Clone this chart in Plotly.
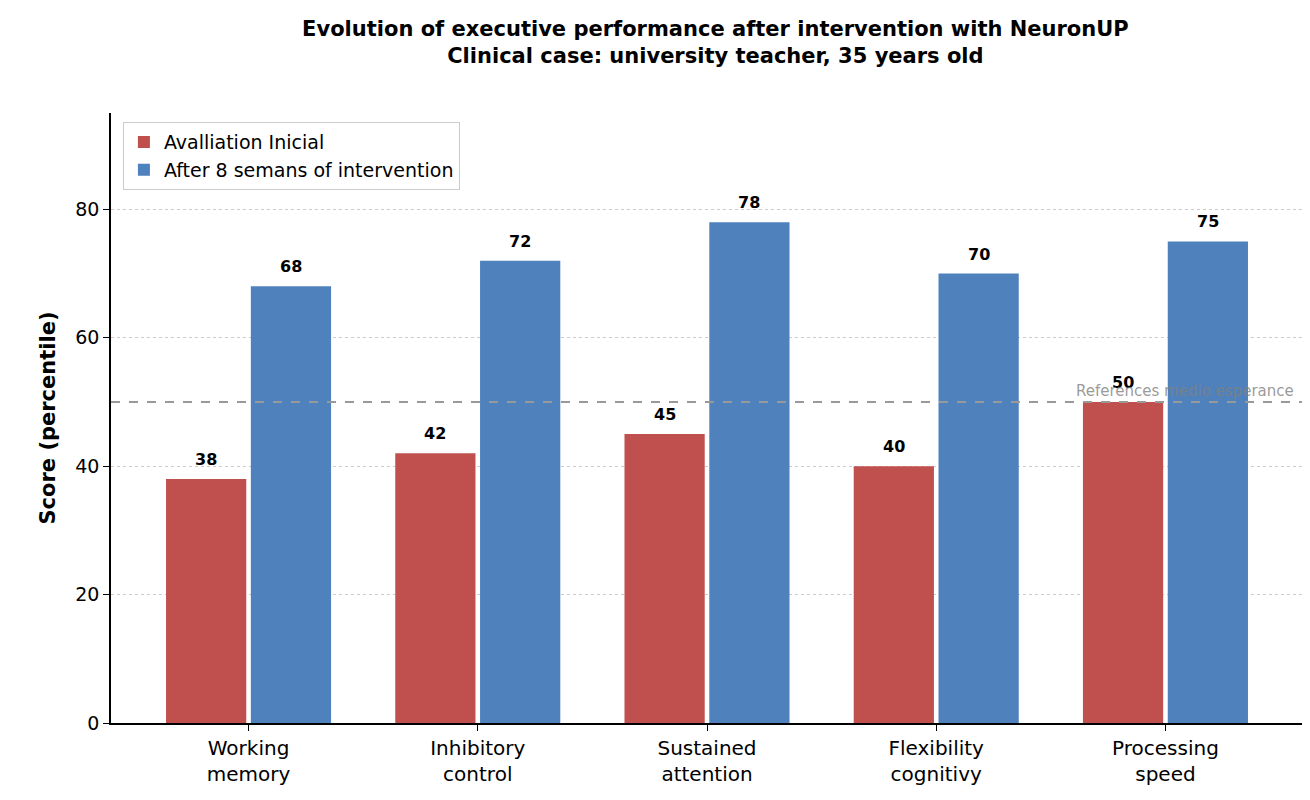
import plotly.graph_objects as go

categories = ["Working<br>memory", "Inhibitory<br>control", "Sustained<br>attention",
              "Flexibility<br>cognitivy", "Processing<br>speed"]
initial = [38, 42, 45, 40, 50]
after = [68, 72, 78, 70, 75]
reference_value = 50

RED = "#c0504d"
BLUE = "#4f81bd"
FONT = "DejaVu Sans"
xs = list(range(len(categories)))

fig = go.Figure()
fig.add_trace(go.Bar(
    x=xs, y=initial, name="Avalliation Inicial", width=0.35, offset=-0.36,
    marker=dict(color=RED, line=dict(width=0)),
))
fig.add_trace(go.Bar(
    x=xs, y=after, name="After 8 semans of intervention", width=0.35, offset=0.01,
    marker=dict(color=BLUE, line=dict(width=0)),
))

# value labels above each bar
for vals, shift in ((initial, -0.185), (after, 0.185)):
    for x, v in zip(xs, vals):
        fig.add_annotation(x=x + shift, y=v, text=f"<b>{v}</b>", showarrow=False,
                           yanchor="bottom", yshift=8,
                           font=dict(family=FONT, size=16, color="black"))

fig.add_hline(y=reference_value, line=dict(color="#999999", width=2, dash="dash"))
fig.add_annotation(x=4.57, y=reference_value, xanchor="right", yanchor="bottom",
                   text="References medio esperance", showarrow=False,
                   font=dict(family=FONT, size=15, color="rgba(128,128,128,0.8)"))

fig.update_layout(
    width=1310, height=800,
    margin=dict(l=103, r=15, t=105, b=85),
    plot_bgcolor="white", paper_bgcolor="white",
    font=dict(family=FONT, size=19, color="black"),
    title=dict(
        text="<b>Evolution of executive performance after intervention with NeuronUP<br>"
             "Clinical case: university teacher, 35 years old</b>",
        x=0.54, xanchor="center", y=0.965, yanchor="top",
        font=dict(family=FONT, size=21),
    ),
    showlegend=True,
    legend=dict(x=0.01, y=0.985, xanchor="left", yanchor="top",
                bordercolor="#cccccc", borderwidth=1, bgcolor="white",
                font=dict(family=FONT, size=19)),
    xaxis=dict(range=[-0.6, 4.6], tickvals=xs, ticktext=categories,
               showline=True, linecolor="black", linewidth=1.5,
               ticks="outside", ticklen=6, tickcolor="black", showgrid=False,
               tickfont=dict(size=20)),
    yaxis=dict(range=[0, 95], tickvals=[0, 20, 40, 60, 80],
               showline=True, linecolor="black", linewidth=1.5,
               ticks="outside", ticklen=6, tickcolor="black",
               showgrid=True, gridcolor="#cccccc", griddash="dot", zeroline=False,
               title=dict(text="<b>Score (percentile)</b>", font=dict(size=21), standoff=14),
               tickfont=dict(size=19)),
)

fig.write_html("out.html")
